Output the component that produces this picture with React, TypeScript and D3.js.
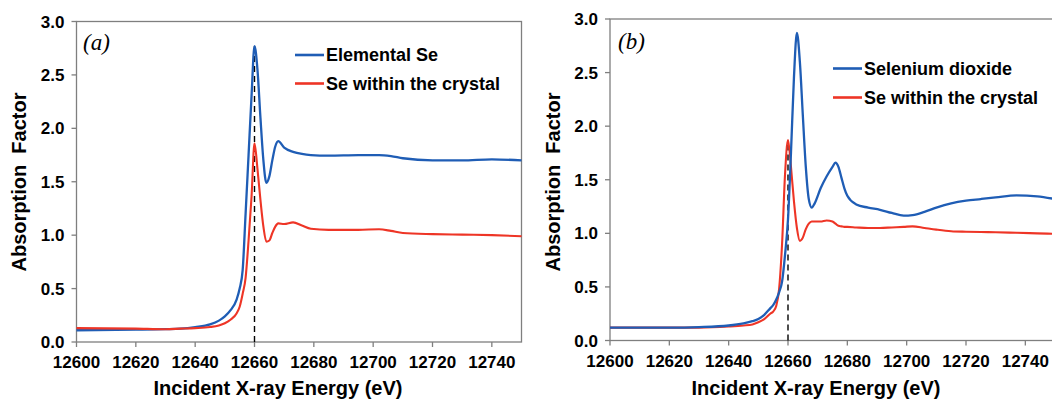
import React from 'react';
import * as d3 from 'd3';

const W = 1052;
const H = 401;

const BLUE = '#1f5db5';
const RED = '#ee3526';
const AXIS = '#7f7f7f';
const FONT = '"Liberation Sans", Arial, sans-serif';

const xTicks = [12600, 12620, 12640, 12660, 12680, 12700, 12720, 12740];
const yTicks = [0, 0.5, 1.0, 1.5, 2.0, 2.5, 3.0];
const edgeEnergy = 12660;

// panel (a)
const energyA = [12600, 12620, 12630, 12635, 12640, 12645, 12648, 12650, 12652, 12654, 12655, 12656, 12657, 12658, 12659, 12660,
  12661, 12662, 12663, 12664, 12665, 12666, 12667, 12668, 12670, 12673, 12676, 12679, 12685, 12695, 12702, 12706, 12710,
  12720, 12730, 12740, 12750];
const elementalSe = [0.11, 0.115, 0.12, 0.125, 0.14, 0.165, 0.2, 0.24, 0.3, 0.4, 0.5, 0.67, 1.2, 1.75, 2.3, 2.77,
  2.55, 2.1, 1.7, 1.49, 1.55, 1.7, 1.83, 1.88, 1.82, 1.78, 1.76, 1.75, 1.745, 1.75, 1.75, 1.74, 1.72,
  1.7, 1.7, 1.71, 1.7];
const crystalA = [0.13, 0.125, 0.12, 0.125, 0.13, 0.14, 0.155, 0.175, 0.21, 0.27, 0.33, 0.45, 0.6, 0.95, 1.36, 1.86,
  1.62, 1.33, 1.08, 0.94, 0.95, 1.02, 1.08, 1.11, 1.105, 1.12, 1.09, 1.06, 1.05, 1.05, 1.055, 1.04, 1.02,
  1.01, 1.005, 1.0, 0.99];

// panel (b)
const energyB = [12600, 12620, 12630, 12640, 12645, 12648, 12650, 12652, 12654, 12655, 12656, 12657, 12658, 12659, 12660,
  12661, 12662, 12663, 12664, 12665, 12666, 12667, 12668, 12669, 12671, 12673, 12675, 12676, 12677, 12678, 12679, 12680,
  12683, 12687, 12691, 12695, 12699, 12702, 12706, 12710, 12715, 12720, 12725, 12730, 12737, 12744, 12750];
const seleniumDioxide = [0.12, 0.12, 0.125, 0.14, 0.16, 0.18, 0.2, 0.24, 0.3, 0.33, 0.38, 0.45, 0.55, 0.8, 1.13,
  1.75, 2.45, 2.87, 2.6, 2.1, 1.62, 1.32, 1.24, 1.28, 1.42, 1.53, 1.62, 1.66, 1.62, 1.52, 1.42, 1.35,
  1.27, 1.24, 1.22, 1.19, 1.165, 1.17, 1.2, 1.24, 1.28, 1.305, 1.32, 1.335, 1.355, 1.345, 1.32];
const crystalB = [0.12, 0.12, 0.12, 0.13, 0.14, 0.15, 0.17, 0.2, 0.25, 0.27, 0.32, 0.48, 0.9, 1.55, 1.87,
  1.62, 1.3, 1.05, 0.93, 0.96, 1.04, 1.09, 1.11, 1.11, 1.11, 1.12, 1.11, 1.09, 1.07, 1.065, 1.06, 1.06,
  1.055, 1.05, 1.05, 1.055, 1.06, 1.065, 1.05, 1.035, 1.02, 1.015, 1.012, 1.01, 1.005, 1.0, 0.995];

type PanelProps = {
  left: number; right: number; top: number; bottom: number;
  energy: number[]; blue: number[]; red: number[];
  dashTo: number; blueOnTop: boolean;
  tag: string; tagX: number; tagY: number;
  names: string[]; legX: number; legY: number[];
  xTitleX: number; yTitleX: number;
};

function Panel(p: PanelProps) {
  const x = d3.scaleLinear().domain([12600, 12750]).range([p.left, p.right]);
  const y = d3.scaleLinear().domain([0, 3]).range([p.bottom, p.top]);
  const line = d3.line<number>()
    .x((_, i) => x(p.energy[i]))
    .y(d => y(d))
    .curve(d3.curveMonotoneX);

  const blue = <path d={line(p.blue) || ''} fill="none" stroke={BLUE} strokeWidth={2.3} />;
  const red = <path d={line(p.red) || ''} fill="none" stroke={RED} strokeWidth={2.1} />;

  return (
    <g fontFamily={FONT}>
      {/* frame */}
      <rect x={p.left} y={p.top} width={p.right - p.left} height={p.bottom - p.top}
        fill="none" stroke={AXIS} strokeWidth={1.3} />

      {/* x axis */}
      {xTicks.map(t => (
        <g key={t} transform={`translate(${x(t)},0)`}>
          <line y1={p.bottom} y2={p.bottom + 5} stroke={AXIS} strokeWidth={1.3} />
          <text y={p.bottom + 26} textAnchor="middle" fontSize={17} fontWeight="bold">{t}</text>
        </g>
      ))}
      {/* y axis */}
      {yTicks.map(t => (
        <g key={t} transform={`translate(0,${y(t)})`}>
          <line x1={p.left - 5} x2={p.left} stroke={AXIS} strokeWidth={1.3} />
          <text x={p.left - 12} dy="0.36em" textAnchor="end" fontSize={17} fontWeight="bold">{d3.format('.1f')(t)}</text>
        </g>
      ))}

      <text x={p.xTitleX} y={395} textAnchor="middle" fontSize={20} fontWeight="bold">Incident X-ray Energy (eV)</text>
      <text transform={`translate(${p.yTitleX},182) rotate(-90)`} textAnchor="middle" dy="0.36em"
        fontSize={20} fontWeight="bold" style={{ whiteSpace: 'pre' }}>{'Absorption  Factor'}</text>

      {/* edge marker */}
      <line x1={x(edgeEnergy)} x2={x(edgeEnergy)} y1={p.bottom} y2={y(p.dashTo)}
        stroke="#000" strokeWidth={1.4} strokeDasharray="6,4" />

      {p.blueOnTop ? <>{red}{blue}</> : <>{blue}{red}</>}

      <text x={p.tagX} y={p.tagY} fontFamily='"Liberation Serif", "Times New Roman", serif'
        fontStyle="italic" fontSize={23}>{p.tag}</text>

      {/* legend */}
      {p.names.map((n, i) => (
        <g key={n}>
          <line x1={p.legX} x2={p.legX + 29} y1={p.legY[i]} y2={p.legY[i]}
            stroke={i === 0 ? BLUE : RED} strokeWidth={2.6} />
          <text x={p.legX + 31} y={p.legY[i]} dy="0.36em" fontSize={18} fontWeight="bold">{n}</text>
        </g>
      ))}
    </g>
  );
}

export default function App() {
  return (
    <svg width={W} height={H} style={{ position: 'absolute', left: 0, top: 0, background: '#fff' }}>
      <rect width={W} height={H} fill="#fff" />
      <Panel left={76.5} right={521.5} top={21.5} bottom={342}
        energy={energyA} blue={elementalSe} red={crystalA}
        dashTo={2.77} blueOnTop={false}
        tag="(a)" tagX={83} tagY={50}
        names={['Elemental Se', 'Se within the crystal']} legX={295} legY={[55, 83.5]}
        xTitleX={278} yTitleX={19} />
      <Panel left={610} right={1055} top={19} bottom={340.5}
        energy={energyB} blue={seleniumDioxide} red={crystalB}
        dashTo={1.87} blueOnTop={true}
        tag="(b)" tagX={618} tagY={49}
        names={['Selenium dioxide', 'Se within the crystal']} legX={833} legY={[68.5, 97.5]}
        xTitleX={816} yTitleX={553} />
    </svg>
  );
}
